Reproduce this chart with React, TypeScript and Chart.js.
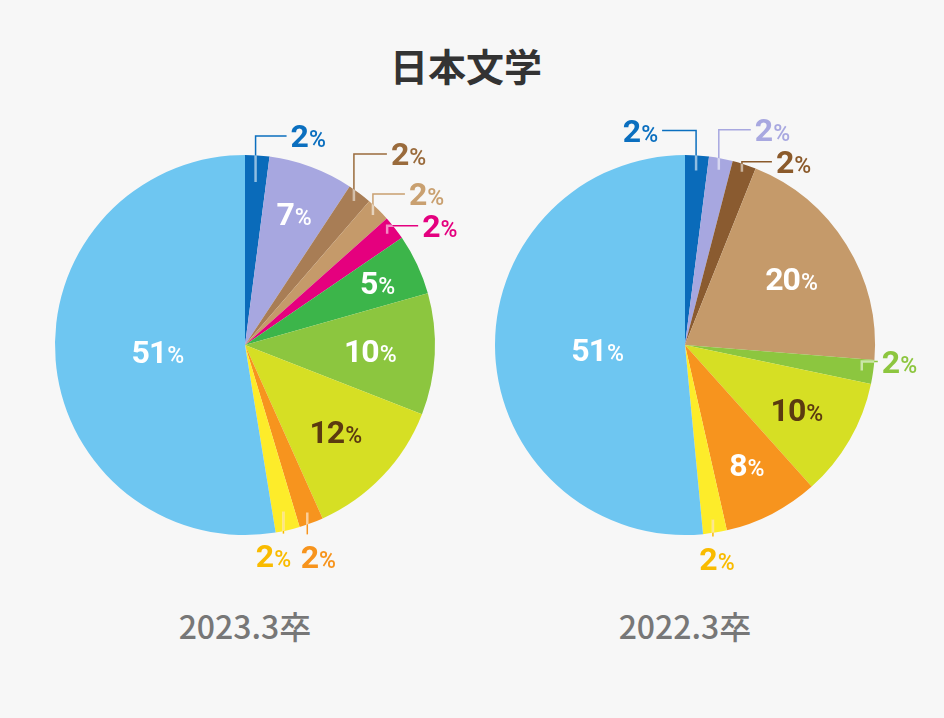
import React, { useEffect, useRef } from 'react';
import { Chart, registerables } from 'chart.js';

Chart.register(...registerables);

// ---------- data ----------
const title = '日本文学';
const years = ['2023.3卒', '2022.3卒'];

const slices2023 = ['青', '藤', '茶', 'ベージュ', 'マゼンタ', '緑', '黄緑', 'ライム', '橙', '黄', '水色'];
const values2023 = [2, 7, 2, 2, 2, 5, 10, 12, 2, 2, 51];
const colors2023 = ['#0a6bba', '#a7a7e0', '#a87d55', '#c59a6a', '#e5007e', '#3cb54a', '#8cc63f', '#d6df24', '#f7941e', '#fdec2a', '#6ec6f1'];

const slices2022 = ['青', '藤', '焦茶', 'ベージュ', '黄緑', 'ライム', '橙', '黄', '水色'];
const values2022 = [2, 2, 2, 20, 2, 10, 8, 2, 51];
const colors2022 = ['#0a6bba', '#a7a7e0', '#8a5b30', '#c59a6a', '#8cc63f', '#d6df24', '#f7941e', '#fdec2a', '#6ec6f1'];

// ---------- label styles ----------
type LabelStyle = {
  mode: 'in' | 'ur' | 'ul' | 'd';
  r: number;
  color: string;
  len?: number;
  run?: number;
  dx?: number;
};

const labelStyles2023: LabelStyle[] = [
  { mode: 'ur', r: 0.86, len: 46, run: 31, color: '#0b6fbf' },
  { mode: 'in', r: 0.74, color: '#ffffff' },
  { mode: 'ur', r: 0.95, len: 47, run: 33, color: '#9a6b3c' },
  { mode: 'ur', r: 0.96, len: 21, run: 32, color: '#c9a070' },
  { mode: 'ur', r: 0.95, len: 8, run: 31, color: '#e4007f' },
  { mode: 'in', r: 0.77, color: '#ffffff' },
  { mode: 'in', r: 0.66, color: '#ffffff' },
  { mode: 'in', r: 0.66, color: '#5b3a10' },
  { mode: 'd', r: 0.94, len: 22, dx: 11, color: '#f7941d' },
  { mode: 'd', r: 0.9, len: 22, dx: -10, color: '#f9bb00' },
  { mode: 'in', r: 0.46, color: '#ffffff' },
];

const labelStyles2022: LabelStyle[] = [
  { mode: 'ul', r: 0.92, len: 40, run: 34, color: '#0b6fbf' },
  { mode: 'ur', r: 0.94, len: 40, run: 32, color: '#a8a8e0' },
  { mode: 'ur', r: 0.96, len: 10, run: 30, color: '#8b5a2b' },
  { mode: 'in', r: 0.66, color: '#ffffff' },
  { mode: 'ur', r: 0.94, len: 9, run: 16, color: '#8dc63f' },
  { mode: 'in', r: 0.68, color: '#5b3a10' },
  { mode: 'in', r: 0.71, color: '#ffffff' },
  { mode: 'd', r: 0.93, len: 17, dx: 4, color: '#f9bb00' },
  { mode: 'in', r: 0.46, color: '#ffffff' },
];

const NUM_FONT = 'bold 32px Roboto, "Noto Sans", sans-serif';
const PCT_FONT = '500 23px Roboto, "Noto Sans", sans-serif';
const CAP = 0.71 * 32;

function drawPct(ctx: CanvasRenderingContext2D, num: string, cx: number, cy: number, align: 'center' | 'left' | 'right', color: string) {
  ctx.save();
  (ctx as any).letterSpacing = '-1px';
  ctx.font = NUM_FONT;
  const wn = ctx.measureText(num).width;
  ctx.font = PCT_FONT;
  (ctx as any).letterSpacing = '0px';
  const wp = ctx.measureText('%').width;
  const total = wn + wp + 1;
  let x0 = cx;
  if (align === 'center') x0 = cx - total / 2;
  else if (align === 'right') x0 = cx - total;
  const base = cy + CAP / 2;
  ctx.fillStyle = color;
  ctx.textAlign = 'left';
  ctx.textBaseline = 'alphabetic';
  (ctx as any).letterSpacing = '-1px';
  ctx.font = NUM_FONT;
  ctx.fillText(num, x0, base);
  (ctx as any).letterSpacing = '0px';
  ctx.font = PCT_FONT;
  ctx.fillText('%', x0 + wn + 1, base);
  ctx.restore();
}

function makeLabelPlugin(styles: LabelStyle[]) {
  return {
    id: 'pctLabels',
    afterDatasetsDraw(chart: any) {
      const ctx: CanvasRenderingContext2D = chart.ctx;
      const meta = chart.getDatasetMeta(0);
      const data = chart.data.datasets[0].data as number[];
      meta.data.forEach((arc: any, i: number) => {
        const st = styles[i];
        if (!st) return;
        const p = arc.getProps(['x', 'y', 'startAngle', 'endAngle', 'outerRadius'], true);
        const mid = (p.startAngle + p.endAngle) / 2;
        const R = p.outerRadius;
        const ax = p.x + Math.cos(mid) * R * st.r;
        const ay = p.y + Math.sin(mid) * R * st.r;
        const txt = String(data[i]);
        if (st.mode === 'in') {
          drawPct(ctx, txt, ax, ay, 'center', st.color);
          return;
        }
        const pts: [number, number][] = [[ax, ay]];
        let lx = 0, ly = 0, align: 'left' | 'right' | 'center' = 'left';
        if (st.mode === 'ur' || st.mode === 'ul') {
          const ey = ay - (st.len || 0);
          const sign = st.mode === 'ur' ? 1 : -1;
          const ex = ax + sign * (st.run || 0);
          pts.push([ax, ey], [ex, ey]);
          lx = ex + sign * 4;
          ly = ey;
          align = st.mode === 'ur' ? 'left' : 'right';
        } else {
          const ey = ay + (st.len || 0);
          pts.push([ax, ey]);
          lx = ax + (st.dx || 0);
          ly = ey + 22;
          align = 'center';
        }
        ctx.save();
        ctx.lineWidth = 1.5;
        ctx.strokeStyle = st.color;
        ctx.beginPath();
        ctx.moveTo(pts[0][0], pts[0][1]);
        for (let k = 1; k < pts.length; k++) ctx.lineTo(pts[k][0], pts[k][1]);
        ctx.stroke();
        ctx.beginPath();
        ctx.arc(p.x, p.y, R, 0, Math.PI * 2);
        ctx.clip();
        ctx.strokeStyle = 'rgba(255,255,255,0.55)';
        ctx.lineWidth = 2.5;
        ctx.beginPath();
        ctx.moveTo(pts[0][0], pts[0][1]);
        for (let k = 1; k < pts.length; k++) ctx.lineTo(pts[k][0], pts[k][1]);
        ctx.stroke();
        ctx.restore();
        drawPct(ctx, txt, lx, ly, align, st.color);
      });
    },
  };
}

function PieCanvas(props: { labels: string[]; values: number[]; colors: string[]; styles: LabelStyle[]; left: number; top: number }) {
  const ref = useRef<HTMLCanvasElement | null>(null);
  useEffect(() => {
    if (!ref.current) return;
    const chart = new Chart(ref.current, {
      type: 'pie',
      data: {
        labels: props.labels,
        datasets: [
          {
            data: props.values,
            backgroundColor: props.colors,
            borderWidth: 0,
          },
        ],
      },
      options: {
        responsive: false,
        animation: false,
        events: [],
        layout: { padding: 50 },
        plugins: { legend: { display: false }, tooltip: { enabled: false } },
      },
      plugins: [makeLabelPlugin(props.styles)],
    });
    return () => chart.destroy();
  }, []);
  return (
    <canvas
      ref={ref}
      width={480}
      height={480}
      style={{ position: 'absolute', left: props.left, top: props.top, width: 480, height: 480 }}
    />
  );
}

export default function App() {
  const textFont = '"Noto Sans CJK JP", "Noto Sans", sans-serif';
  return (
    <div
      style={{
        position: 'fixed',
        left: 0,
        top: 0,
        width: 944,
        height: 718,
        background: '#f7f7f7',
        overflow: 'hidden',
      }}
    >
      <div
        style={{
          position: 'absolute',
          left: 266,
          width: 400,
          top: 44,
          textAlign: 'center',
          fontFamily: textFont,
          fontSize: 38,
          lineHeight: '42px',
          fontWeight: 700,
          color: '#333333',
        }}
      >
        {title}
      </div>
      <PieCanvas labels={slices2023} values={values2023} colors={colors2023} styles={labelStyles2023} left={5} top={105} />
      <PieCanvas labels={slices2022} values={values2022} colors={colors2022} styles={labelStyles2022} left={445} top={105} />
      {years.map((y, i) => (
        <div
          key={y}
          style={{
            position: 'absolute',
            left: (i === 0 ? 245 : 685) - 120,
            width: 240,
            top: 605,
            textAlign: 'center',
            fontFamily: textFont,
            fontSize: 32,
            lineHeight: '40px',
            fontWeight: 500,
            color: '#777777',
          }}
        >
          {y}
        </div>
      ))}
    </div>
  );
}
